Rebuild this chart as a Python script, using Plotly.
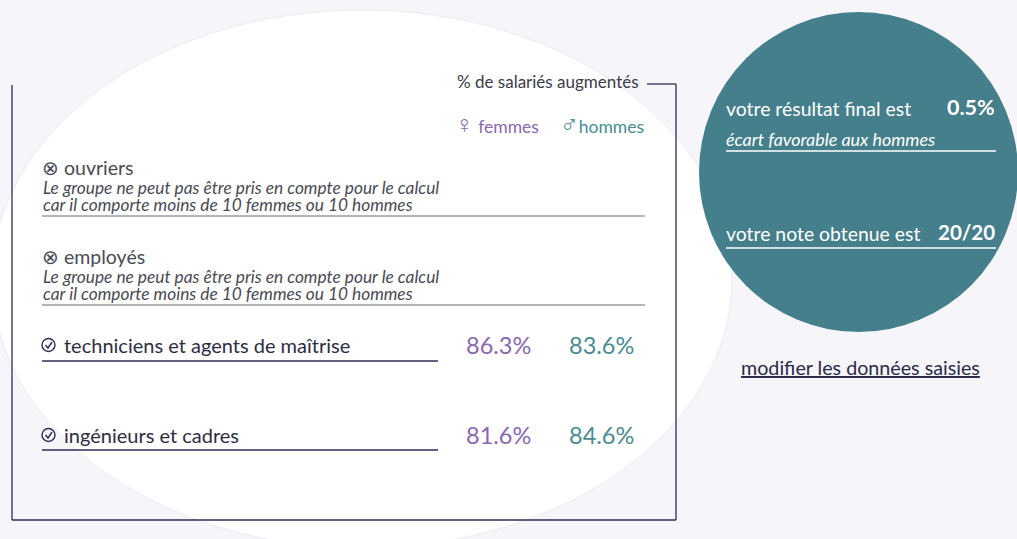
import plotly.graph_objects as go

# ---- data ----
categories = ["ouvriers", "employés", "techniciens et agents de maîtrise", "ingénieurs et cadres"]
included = [False, False, True, True]
femmes_pct = [None, None, 86.3, 81.6]
hommes_pct = [None, None, 83.6, 84.6]
excluded_note = ["Le groupe ne peut pas être pris en compte pour le calcul",
                 "car il comporte moins de 10 femmes ou 10 hommes"]
header_title = "% de salariés augmentés"
legend_symbols = ["♀", "♂"]
legend_labels = ["femmes", "hommes"]
result_label = "votre résultat final est"
result_value = "0.5%"
result_note = "écart favorable aux hommes"
score_label = "votre note obtenue est"
score_value = "20/20"
link_text = "modifier les données saisies"

# ---- styles ----
W, H = 1017, 539
FONT = "Lato"
PURPLE = "#8a68b0"
TEAL_TXT = "#4b8b92"
TEAL_BG = "#457f8b"
NAVY = "#2e2c58"
GRAY = "#4a4a55"
BG = "#f6f6fa"

row_y = [167, 256, 345, 435]       # label centre
row_line = [216, 305, 361, 450]    # underline
x_fem, x_hom = 498, 601

fig = go.Figure()
shapes = []
ann = []

# background white ellipse
shapes.append(dict(type="circle", xref="x", yref="y", x0=-8, x1=732, y0=10, y1=548,
                   fillcolor="white", line=dict(color="#ebebf1", width=1), layer="below"))
# teal circle
shapes.append(dict(type="circle", xref="x", yref="y", x0=699, x1=1018, y0=12, y1=332,
                   fillcolor=TEAL_BG, line=dict(width=0), layer="below"))

# frame
fl = dict(color=NAVY, width=1.3)
shapes += [
    dict(type="line", xref="x", yref="y", x0=12, x1=12, y0=85, y1=520, line=fl),
    dict(type="line", xref="x", yref="y", x0=12, x1=676, y0=520, y1=520, line=fl),
    dict(type="line", xref="x", yref="y", x0=676, x1=676, y0=84, y1=520, line=fl),
    dict(type="line", xref="x", yref="y", x0=647, x1=676, y0=84, y1=84, line=fl),
]

ann.append(dict(x=641, y=81, text=header_title, xanchor="right", yanchor="middle",
                font=dict(family=FONT, size=17, color="#3c3c4a")))
ann.append(dict(x=541, y=123,
                text=f"<span style='font-size:25px'>{legend_symbols[0]}</span> {legend_labels[0]}",
                xanchor="right", yanchor="middle", font=dict(family=FONT, size=17.5, color=PURPLE)))
ann.append(dict(x=646, y=123,
                text=f"<span style='font-size:25px'>{legend_symbols[1]}</span>{legend_labels[1]}",
                xanchor="right", yanchor="middle", font=dict(family=FONT, size=17.5, color=TEAL_TXT)))

for i, cat in enumerate(categories):
    y = row_y[i]
    if not included[i]:
        ann.append(dict(x=40, y=y, text="⊗ " + cat, xanchor="left", yanchor="middle",
                        font=dict(family=FONT, size=19.5, color=GRAY)))
        ann.append(dict(x=41, y=y + 20, text="<i>" + excluded_note[0] + "</i>", xanchor="left",
                        yanchor="middle", font=dict(family=FONT, size=17.3, color=GRAY)))
        ann.append(dict(x=41, y=y + 37.5, text="<i>" + excluded_note[1] + "</i>", xanchor="left",
                        yanchor="middle", font=dict(family=FONT, size=17.3, color=GRAY)))
        shapes.append(dict(type="line", xref="x", yref="y", x0=42, x1=645,
                           y0=row_line[i], y1=row_line[i], line=dict(color="#6b6b75", width=1.2)))
    else:
        # circled check icon
        shapes.append(dict(type="circle", xref="x", yref="y", x0=42, x1=55, y0=y - 6.5, y1=y + 6.5,
                           line=dict(color=NAVY, width=1.4)))
        shapes.append(dict(type="path", xref="x", yref="y",
                           path=f"M 45.5 {y} L 48 {y+3} L 52 {y-3}",
                           line=dict(color=NAVY, width=1.4)))
        ann.append(dict(x=62, y=y, text=cat, xanchor="left", yanchor="middle",
                        font=dict(family=FONT, size=20, color="#2f2d45")))
        shapes.append(dict(type="line", xref="x", yref="y", x0=42, x1=438,
                           y0=row_line[i], y1=row_line[i], line=dict(color=NAVY, width=1.3)))
        ann.append(dict(x=x_fem, y=y, text=f"{femmes_pct[i]:.1f}%", xanchor="center", yanchor="middle",
                        font=dict(family=FONT, size=23.5, color=PURPLE)))
        ann.append(dict(x=x_hom, y=y, text=f"{hommes_pct[i]:.1f}%", xanchor="center", yanchor="middle",
                        font=dict(family=FONT, size=23.5, color=TEAL_TXT)))

# right circle text
ann.append(dict(x=724, y=108, text=result_label, xanchor="left", yanchor="middle",
                font=dict(family=FONT, size=19.4, color="white")))
ann.append(dict(x=997, y=107, text="<b>" + result_value + "</b>", xanchor="right", yanchor="middle",
                font=dict(family=FONT, size=21.5, color="white")))
ann.append(dict(x=724, y=139, text="<i>" + result_note + "</i>", xanchor="left", yanchor="middle",
                font=dict(family=FONT, size=17.9, color="white")))
shapes.append(dict(type="line", xref="x", yref="y", x0=726, x1=996, y0=151, y1=151,
                   line=dict(color="white", width=1.3)))
ann.append(dict(x=724, y=233, text=score_label, xanchor="left", yanchor="middle",
                font=dict(family=FONT, size=19.4, color="white")))
ann.append(dict(x=997, y=232, text="<b>" + score_value + "</b>", xanchor="right", yanchor="middle",
                font=dict(family=FONT, size=20.5, color="white")))
shapes.append(dict(type="line", xref="x", yref="y", x0=726, x1=996, y0=248, y1=248,
                   line=dict(color="white", width=1.3)))

ann.append(dict(x=860, y=367, text="<u>" + link_text + "</u>", xanchor="center", yanchor="middle",
                font=dict(family=FONT, size=19.7, color="#2b2a4a")))

for a in ann:
    a.update(xref="x", yref="y", showarrow=False)

fig.update_layout(
    width=W, height=H, margin=dict(l=0, r=0, t=0, b=0),
    paper_bgcolor=BG, plot_bgcolor=BG,
    xaxis=dict(range=[0, W], visible=False, fixedrange=True),
    yaxis=dict(range=[H, 0], visible=False, fixedrange=True),
    shapes=shapes, annotations=ann, showlegend=False,
)
fig.write_html("out.html", config={"displayModeBar": False},
               post_script=f"document.body.style.margin='0';document.body.style.background='{BG}';")
